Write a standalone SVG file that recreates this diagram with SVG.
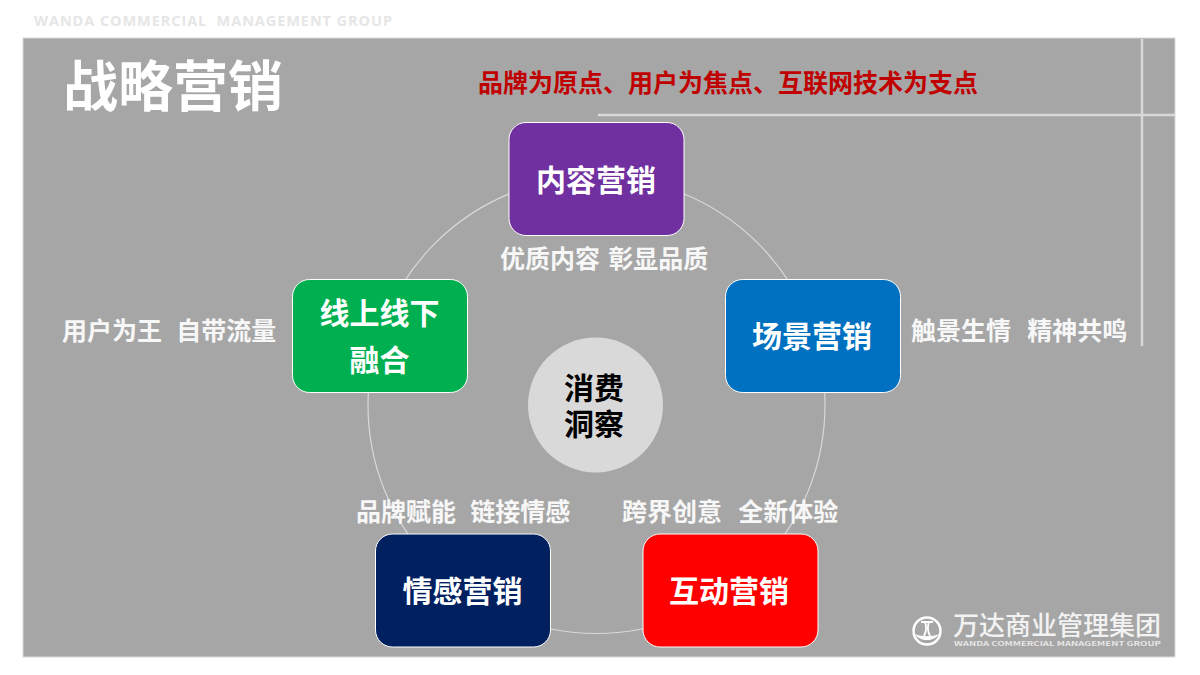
<svg xmlns="http://www.w3.org/2000/svg" width="1200" height="675" viewBox="0 0 1200 675">
<style>
text{font-family:"Noto Sans CJK SC","Noto Sans",sans-serif}
.box{stroke:#fff;stroke-width:1}
.n{fill:#fff;font-size:30px;font-weight:700;text-anchor:middle}
.s{fill:#f7f7f7;font-size:25px;font-weight:700;word-spacing:2.500px}
.t{word-spacing:1.500px}
.l{stroke:#d9d9d9;stroke-width:2.500;fill:none}
</style>
<rect width="1200" height="675" fill="#fff"/>
<text x="34" y="26" font-size="14.500" font-weight="700" fill="#e6e6e6" style="font-family:'Open Sans','Noto Sans',sans-serif" xml:space="preserve" textLength="358">WANDA COMMERCIAL  MANAGEMENT GROUP</text>
<rect x="23" y="38" width="1152" height="619" fill="#a6a6a6" stroke="#d9d9d9" stroke-width="1"/>
<g id="decor">
<path class="l" d="M598 115H1175M1142 39V346"/>
</g>
<g id="title"><text x="63" y="106" font-size="55" font-weight="700" fill="#fff">战略营销</text></g>
<g id="subtitle"><text x="478" y="92" font-size="25" font-weight="700" fill="#c00000">品牌为原点、用户为焦点、互联网技术为支点</text></g>
<g id="connectors"><circle cx="596.500" cy="405" r="228.500" fill="none" stroke="#d9d9d9" stroke-width="1.200"/></g>
<g id="node-content"><rect class="box" x="509" y="122.500" width="175" height="113" rx="17" fill="#7030a0"/><text class="n" x="596" y="191">内容营销</text></g>
<g id="node-scene"><rect class="box" x="725.500" y="279.500" width="175" height="113" rx="17" fill="#0070c0"/><text class="n" x="812" y="347">场景营销</text></g>
<g id="node-interact"><rect class="box" x="643" y="534" width="175" height="113" rx="17" fill="#ff0000"/><text class="n" x="729" y="602">互动营销</text></g>
<g id="node-emotion"><rect class="box" x="375.500" y="534" width="175" height="113" rx="17" fill="#002060"/><text class="n" x="462.500" y="602">情感营销</text></g>
<g id="node-online"><rect class="box" x="292.500" y="279.500" width="175" height="113" rx="17" fill="#00b050"/><text class="n"><tspan x="379.500" y="324">线上线下</tspan><tspan x="379.500" y="371">融合</tspan></text></g>
<g id="node-center"><circle cx="595.500" cy="405" r="67.500" fill="#d9d9d9"/><text font-size="30" font-weight="700" text-anchor="middle" fill="#000"><tspan x="594" y="399">消费</tspan><tspan x="594" y="435">洞察</tspan></text></g>
<g id="labels">
<text class="s" x="500" y="268">优质内容 彰显品质</text>
<text class="s" x="911" y="340" xml:space="preserve">触景生情  精神共鸣</text>
<text class="s t" x="62" y="340" xml:space="preserve">用户为王  自带流量</text>
<text class="s t" x="356" y="521" xml:space="preserve">品牌赋能  链接情感</text>
<text class="s" x="622" y="521" xml:space="preserve">跨界创意  全新体验</text>
</g>
<g id="logo">
<circle cx="927" cy="631" r="13.500" fill="none" stroke="#fff" stroke-width="2.500"/>
<path d="M915 634C920 642 934 642 939 634C933 637 921 637 915 634Z" fill="#fff"/>
<path d="M921 622H933M925 622C927 627 926 632 924 636M929 622C927 627 928 632 930 636" fill="none" stroke="#fff" stroke-width="1.800"/>
<text font-weight="500" fill="#f2f2f2"><tspan x="953" y="635" font-size="26">万达商业管理集团</tspan><tspan x="954" y="646" font-size="6.500" font-weight="700" fill="#e6e6e6" textLength="207" lengthAdjust="spacingAndGlyphs">WANDA COMMERCIAL MANAGEMENT GROUP</tspan></text>
</g>
</svg>
